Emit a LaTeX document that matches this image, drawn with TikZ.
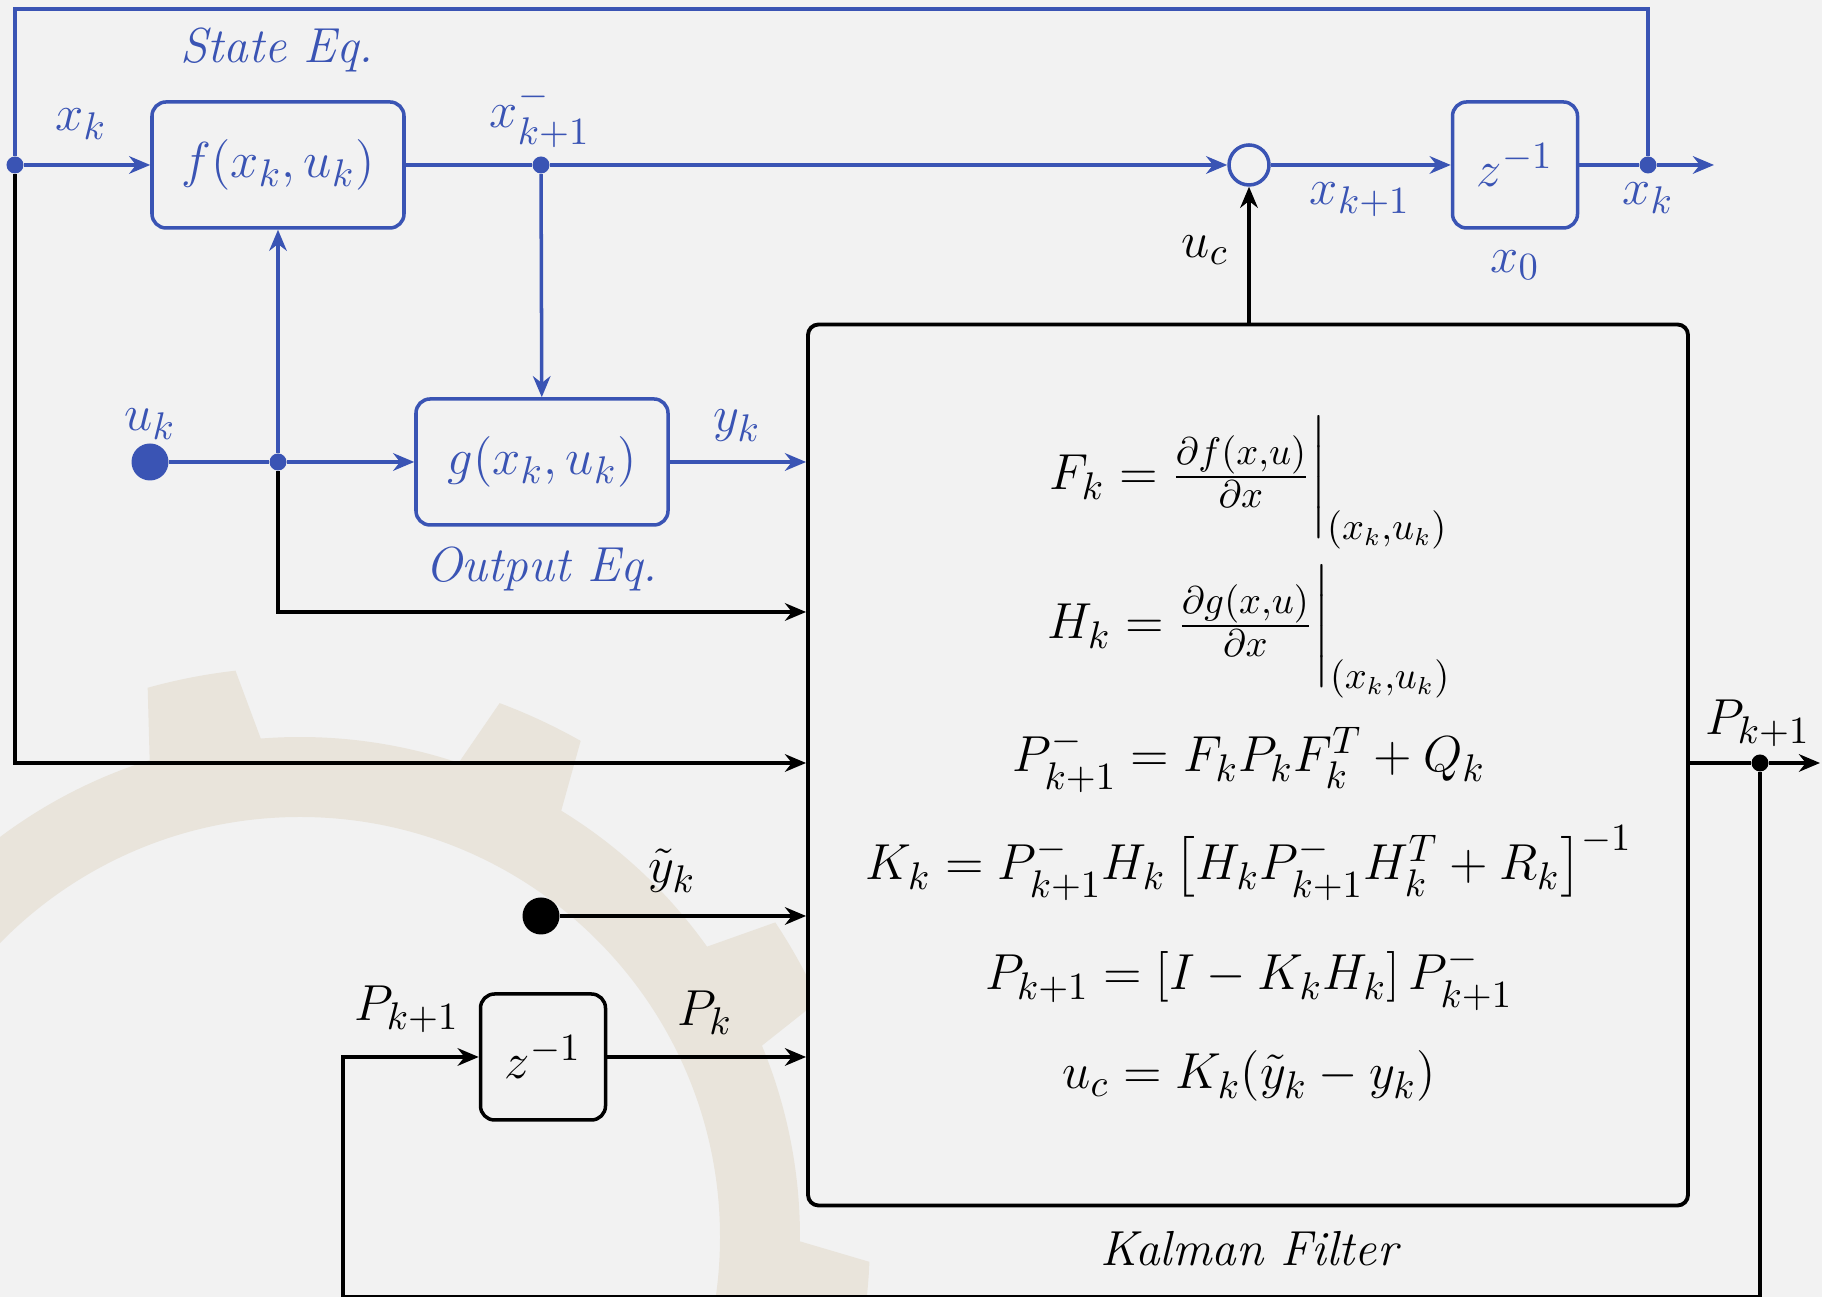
\documentclass[tikz,border=0pt]{standalone}
\usepackage{amsmath}
\usetikzlibrary{arrows.meta, positioning, calc}
\definecolor{kfblue}{RGB}{58,84,180}
\definecolor{kfbg}{RGB}{242,242,242}
\definecolor{kfgear}{RGB}{233,228,219}
\tikzset{
  sysblock/.style={rectangle, draw=kfblue, text=kfblue,
    minimum width=2.52cm, minimum height=1.26cm,
    rounded corners=4pt, line width=1pt},
  delayblock/.style={rectangle, draw=kfblue, text=kfblue,
    minimum width=1.25cm, minimum height=1.26cm,
    rounded corners=4pt, line width=1pt},
  kfblock/.style={rectangle, draw=black, fill=kfbg,
    minimum width=8.8cm, minimum height=8.81cm,
    rounded corners=3pt, line width=1.1pt},
  sumnode/.style={circle, draw=kfblue, minimum size=0.4cm, inner sep=0pt, line width=1pt},
  jdot/.style={circle, fill, inner sep=0pt, minimum size=0.17cm},
  srcdot/.style={circle, fill, inner sep=0pt, minimum size=0.37cm},
  lbl/.style={text=kfblue},
  caption/.style={font=\fontsize{14}{17}\selectfont\itshape},
  arrow/.style={-{Stealth[length=6pt,width=5pt]}, line width=1pt, color=black},
  bluearrow/.style={arrow, color=kfblue},
  line/.style={line width=1pt, color=black},
  blueline/.style={line width=1pt, color=kfblue}
}

\begin{document}
\begin{tikzpicture}[every node/.style={font=\fontsize{15}{18}\selectfont}]
  \useasboundingbox (0,0) rectangle (18.22,12.97);
  \clip (0,0) rectangle (18.22,12.97);
  \fill[kfbg] (0,0) rectangle (18.22,12.97);

  % Gear watermark
  \begin{scope}[shift={(3.0,0.6)}]
    \fill[kfgear, even odd rule] (94.5:5) \foreach \ang in {101,137,...,425} {
      -- (\ang-4.5:5.7) arc[start angle=\ang-4.5, end angle=\ang+4.5, radius=5.7]
      -- (\ang+6.5:5) arc[start angle=\ang+6.5, end angle=\ang+29.5, radius=5]
    } -- cycle (0,0) circle (4.2);
  \end{scope}

  % Blocks
  \node[sysblock] (F) at (2.78,11.32) {$f(x_k,u_k)$};
  \node[sysblock] (G) at (5.42,8.35) {$g(x_k,u_k)$};
  \node[delayblock] (Z1) at (15.15,11.32) {$z^{-1}$};
  \node[delayblock, draw=black, text=black] (Z2) at (5.43,2.40) {$z^{-1}$};
  \node[sumnode] (S) at (12.49,11.32) {};
  \node[kfblock] (KF) at (12.48,5.32) {};

  % Junctions and sources
  \node[jdot, kfblue] (J1) at (0.15,11.32) {};
  \node[jdot, kfblue] (J2) at (5.41,11.32) {};
  \node[jdot, kfblue] (J3) at (16.48,11.32) {};
  \node[jdot, kfblue] (J4) at (2.78,8.35) {};
  \node[jdot] (J5) at (17.60,5.34) {};
  \node[srcdot, kfblue] (U) at (1.50,8.35) {};
  \node[srcdot] (Y) at (5.41,3.81) {};
  \coordinate (top) at (0,12.88);
  \coordinate (brY) at (0,6.85);
  \coordinate (xout) at (17.14,11.32);
  \coordinate (pout) at (18.2,5.34);
  \coordinate (bot) at (3.43,0.0);

  % Kalman filter equations
  \node[anchor=base] (eqF) at (12.49,8.07) {$F_k = \frac{\partial f(x,u)}{\partial x}\bigg|_{(x_k,u_k)}$};
  \node[anchor=base] (eqH) at (12.49,6.58) {$H_k = \frac{\partial g(x,u)}{\partial x}\bigg|_{(x_k,u_k)}$};
  \node[anchor=base] (eqP) at (12.49,5.25) {$P^-_{k+1} = F_k P_k F_k^T + Q_k$};
  \node[anchor=base] (eqK) at (12.49,4.17) {$K_k = P^-_{k+1} H_k \left[ H_k P^-_{k+1} H_k^T + R_k \right]^{-1}$};
  \node[anchor=base] (eqPn) at (12.49,3.07) {$P_{k+1} = \left[ I - K_k H_k \right] P^-_{k+1}$};
  \node[anchor=base] (eqU) at (12.49,2.08) {$u_c = K_k(\tilde{y}_k - y_k)$};

  % Labels
  \node[caption, text=kfblue] (stateLbl) at (2.77,12.47) {State Eq.};
  \node[caption, text=kfblue] (outputLbl) at (5.41,7.28) {Output Eq.};
  \node[caption] (kfLbl) at (12.49,0.48) {Kalman Filter};
  \node[lbl] (xkin) at (0.81,11.73) {$x_k$};
  \node[lbl] (xpred) at (5.40,11.81) {$x^-_{k+1}$};
  \node[lbl] (xnext) at (13.60,10.97) {$x_{k+1}$};
  \node[lbl] (xinit) at (15.15,10.32) {$x_0$};
  \node[lbl] (xkout) at (16.48,10.99) {$x_k$};
  \node (ucLbl) at (12.05,10.47) {$u_c$};
  \node[lbl] (ukLbl) at (1.50,8.73) {$u_k$};
  \node[lbl] (ykLbl) at (7.37,8.71) {$y_k$};
  \node (ytLbl) at (6.72,4.26) {$\tilde{y}_k$};
  \node (pkLbl) at (7.05,2.84) {$P_k$};
  \node (pinLbl) at (4.07,2.88) {$P_{k+1}$};
  \node (poutLbl) at (17.58,5.74) {$P_{k+1}$};

  % State loop
  \draw[blueline] (J1) -- (J1 |- top) -| (J3);
  \draw[bluearrow] (J1) -- (F);
  \draw[blueline] (F) -- (J2);
  \draw[bluearrow] (J2) -- (S);
  \draw[bluearrow] (S) -- (Z1);
  \draw[blueline] (Z1) -- (J3);
  \draw[bluearrow] (J3) -- (xout);

  % Output equation
  \draw[bluearrow] (J2) -- (G);
  \draw[blueline] (U) -- (J4);
  \draw[bluearrow] (J4) -- (G);
  \draw[bluearrow] (J4) -- (F);
  \draw[bluearrow] (G) -- (G -| KF.west);

  % Inputs of the filter
  \draw[arrow] (J4) |- (KF.west |- brY);
  \draw[arrow] (J1) |- (KF.west |- J5);
  \draw[arrow] (Y) -- (Y -| KF.west);
  \draw[arrow] (Z2) -- (Z2 -| KF.west);
  \draw[arrow] (S |- KF.north) -- (S);

  % Covariance loop
  \draw[line] (KF.east |- J5) -- (J5);
  \draw[arrow] (J5) -- (pout);
  \draw[arrow] (J5) |- (bot) |- (Z2);
\end{tikzpicture}
\end{document}
